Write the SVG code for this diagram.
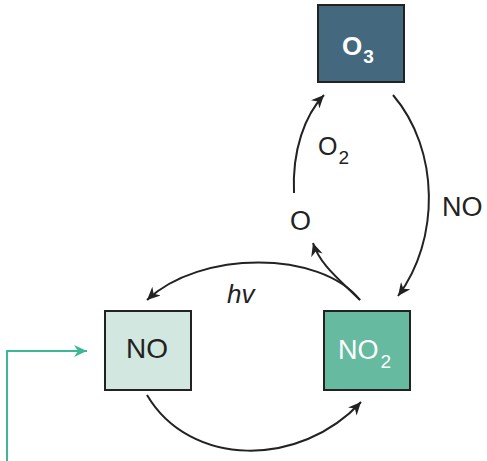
<svg xmlns="http://www.w3.org/2000/svg" width="487" height="461" viewBox="0 0 487 461">
<style>
.box{stroke:#222;stroke-width:2}
.lbl{font-family:"Liberation Sans",Arial,sans-serif;fill:#222;font-size:27px}
.sub{font-size:19px}
.wt{fill:#fff}
.conn{fill:none;stroke:#222;stroke-width:2}
.teal{fill:none;stroke:#3db896;stroke-width:2}
</style>
<defs>
<marker id="ah" markerUnits="userSpaceOnUse" markerWidth="14" markerHeight="12" refX="13" refY="6" orient="auto">
<path d="M0,0 L13,6 L0,12 L4,6 Z" fill="#222"/>
</marker>
<marker id="aht" markerUnits="userSpaceOnUse" markerWidth="14" markerHeight="12" refX="13" refY="6" orient="auto">
<path d="M0,0 L13,6 L0,12 L4,6 Z" fill="#3db896"/>
</marker>
</defs>
<rect width="487" height="461" fill="#fff"/>
<g id="connectors">
<path class="conn" d="M393,95 C440,150 440,240 398,296" marker-end="url(#ah)"/>
<path class="conn" d="M294,193 C292,150 305,115 324,95" marker-end="url(#ah)"/>
<path class="conn" d="M360,300 C340,280 320,265 313,243" marker-end="url(#ah)"/>
<path class="conn" d="M360,300 C320,250 200,250 147,300" marker-end="url(#ah)"/>
<path class="conn" d="M147,395 C190,468 300,468 361,402" marker-end="url(#ah)"/>
<path class="teal" d="M7,461 V351 H87" marker-end="url(#aht)"/>
<text class="lbl" x="318" y="155" style="font-size:25px">O<tspan class="sub" dx="1" dy="9">2</tspan></text>
<text class="lbl" x="290" y="230">O</text>
<text class="lbl" x="442" y="216">NO</text>
<text class="lbl" x="227" y="303" font-style="italic" style="font-size:26px">hv</text>
</g>
<g id="node-O3">
<rect class="box" x="318" y="5" width="86" height="77" fill="#44697f"/>
<text class="lbl wt" x="342" y="55" font-weight="bold" style="font-size:26px">O<tspan class="sub" dx="1" dy="8">3</tspan></text>
</g>
<g id="node-NO">
<rect class="box" x="105" y="311" width="86" height="79" fill="#d1e7df"/>
<text class="lbl" x="126" y="358" style="font-size:28px">NO</text>
</g>
<g id="node-NO2">
<rect class="box" x="324" y="311" width="86" height="79" fill="#66ba9f"/>
<text class="lbl wt" x="338" y="359">NO<tspan class="sub" dx="2" dy="9">2</tspan></text>
</g>
</svg>
